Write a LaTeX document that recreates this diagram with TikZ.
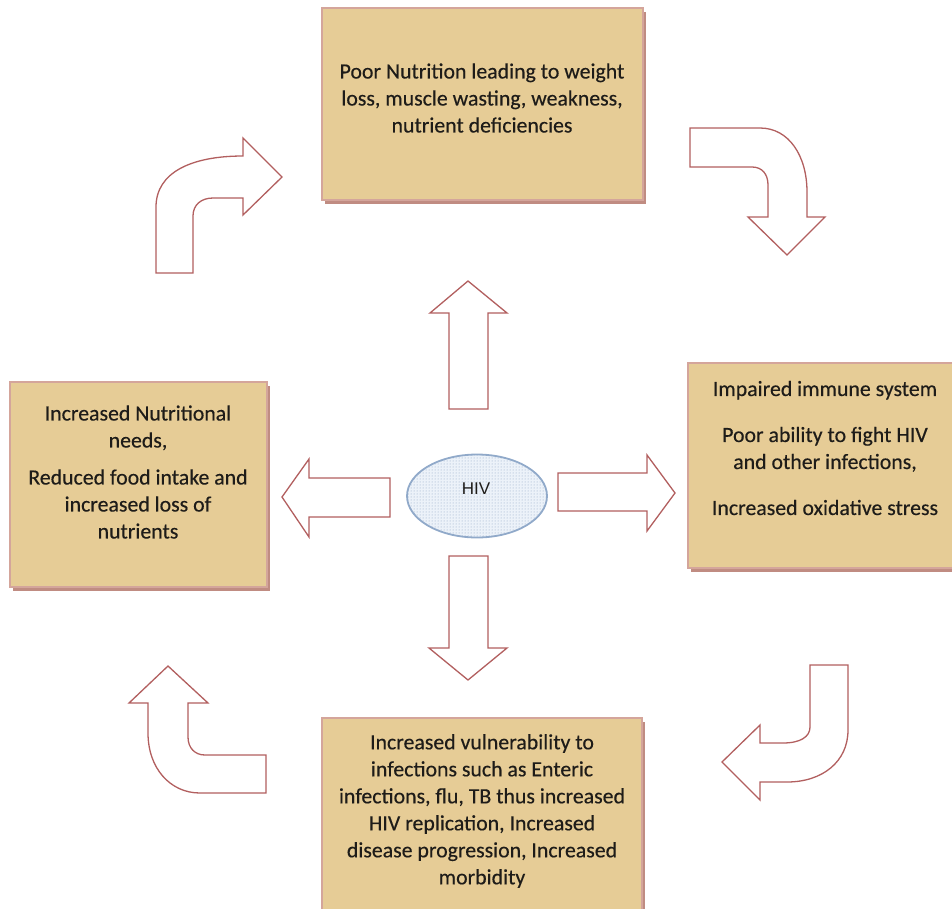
\documentclass[tikz,border=0pt]{standalone}
\usepackage{fontspec}
\setmainfont{Carlito}
\newfontfamily\boxfont{Carlito}[FakeBold=0.35]
\newfontfamily\hivfont{Liberation Sans}
\usetikzlibrary{patterns,shapes.geometric,shadows}
\definecolor{papyrus}{RGB}{230,204,150}
\definecolor{boxedge}{RGB}{212,165,155}
\definecolor{boxshadow}{RGB}{192,140,130}
\definecolor{arrowred}{RGB}{178,95,95}
\definecolor{hivedge}{RGB}{145,170,202}
\definecolor{hivfill}{RGB}{236,242,249}
\definecolor{hivdot}{RGB}{140,164,196}
\definecolor{inktext}{RGB}{30,28,25}
\begin{document}
\begin{tikzpicture}[x=1pt,y=-1pt,
  box/.style={rectangle, draw=boxedge, line width=1.2pt, fill=papyrus, inner sep=0pt,
    drop shadow={shadow xshift=3pt, shadow yshift=-4pt, fill=boxshadow, opacity=1}},
  blockarrow/.style={draw=arrowred, line width=1.3pt, fill=white, line join=miter},
  boxtext/.style={align=center, font=\boxfont\fontsize{21.8}{27}\selectfont, text=inktext, inner sep=0pt},
]
\useasboundingbox (0,0) rectangle (952,908);

% boxes
\node[box, minimum width=321pt, minimum height=192pt] (topbox) at (482.5,104) {};
\node[box, minimum width=257pt, minimum height=205pt] (leftbox) at (138.5,484.5) {};
\node[box, minimum width=275pt, minimum height=205pt] (rightbox) at (825.5,465.5) {};
\node[box, minimum width=320pt, minimum height=195pt] (bottombox) at (482,815.5) {};

% texts
\node[boxtext] (toptext) at (482,98) {Poor Nutrition leading to weight\\ loss, muscle wasting, weakness,\\ nutrient deficiencies};
\node[boxtext] (lefttext) at (138,472) {Increased Nutritional\\ needs,\\[10pt] Reduced food intake and\\ increased loss of\\ nutrients};
\node[boxtext] (righttext) at (825,448) {Impaired immune system\\[19pt] Poor ability to fight HIV\\ and other infections,\\[19pt] Increased oxidative stress};
\node[boxtext] (bottomtext) at (482,811) {Increased vulnerability to\\ infections such as Enteric\\ infections, flu, TB thus increased\\ HIV replication, Increased\\ disease progression, Increased\\ morbidity};

% HIV ellipse
\node[ellipse, draw=hivedge, line width=1.8pt, fill=hivfill,
  postaction={pattern=dots, pattern color=hivdot},
  minimum width=140pt, minimum height=83pt, inner sep=0pt] (hiv) at (477,496) {};
\node[font=\hivfont\fontsize{17}{20}\selectfont, text=inktext, inner sep=0pt] (hivlabel) at (476,489) {HIV};

% straight block arrows
\draw[blockarrow] (449,409) -- (449,313) -- (430,313) -- (468,281) -- (507,313) -- (488,313) -- (488,409) -- cycle;
\draw[blockarrow] (449,556) -- (488,556) -- (488,648) -- (507,648) -- (468,680) -- (429,648) -- (449,648) -- cycle;
\draw[blockarrow] (390,478) -- (309,478) -- (309,459) -- (282,497) -- (309,537) -- (309,517) -- (390,517) -- cycle;
\draw[blockarrow] (558,473) -- (647,473) -- (647,455) -- (675,493) -- (647,531) -- (647,511) -- (558,511) -- cycle;

% curved block arrows
\draw[blockarrow] (156,273) -- (156,207) .. controls (156,172) and (192,156) .. (243,156) -- (243,138) -- (282,177) -- (243,215) -- (243,198) -- (213,198) .. controls (201,198) and (193,205) .. (193,216) -- (193,273) -- cycle;
\draw[blockarrow] (690,128) -- (760,128) .. controls (789,128) and (807,156) .. (807,192) -- (807,217) -- (825,217) -- (787,255) -- (748,217) -- (768,217) -- (768,185) .. controls (768,174) and (762,167) .. (752,167) -- (690,167) -- cycle;
\draw[blockarrow] (810,665) -- (848,665) -- (848,730) .. controls (848,762) and (822,782) .. (787,782) -- (760,782) -- (760,800) -- (722,762) -- (760,725) -- (760,743) -- (783,743) .. controls (800,743) and (810,737) .. (810,727) -- cycle;
\draw[blockarrow] (168,666) -- (208,703) -- (188,703) -- (188,737) .. controls (188,748) and (195,755) .. (205,755) -- (266,755) -- (266,793) -- (200,793) .. controls (170,793) and (148,768) .. (148,733) -- (148,703) -- (129,703) -- cycle;
\end{tikzpicture}
\end{document}
